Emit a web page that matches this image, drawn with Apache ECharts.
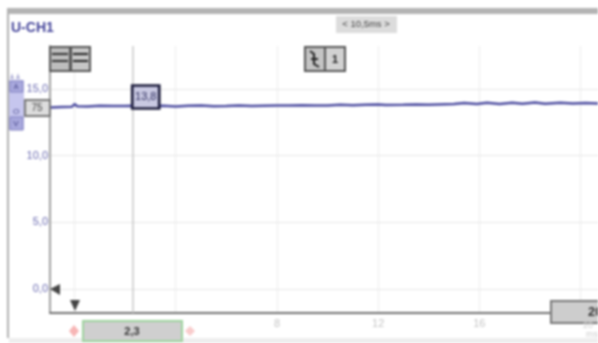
<!DOCTYPE html>
<html>
<head>
<meta charset="utf-8">
<script src="https://cdn.jsdelivr.net/npm/echarts@6/dist/echarts.min.js"></script>
<style>
html, body { margin: 0; padding: 0; background: #fff; }
#chart { width: 598px; height: 343px; filter: blur(0.8px); }
</style>
</head>
<body>
<div id="chart"></div>
<script>
// values
const times = [-0.97, -0.5, -0.1, 0, 0.1, 0.5, 1, 1.5, 2, 2.3, 3, 3.5, 4, 4.5, 5, 5.5, 6, 6.5, 7, 7.5, 8, 8.5, 9, 9.5, 10, 10.5, 11, 11.5, 12, 12.3, 13, 13.5, 14, 15, 15.4, 15.9, 16.3, 16.8, 17.3, 17.7, 18.2, 18.6, 19.2, 19.7, 20.2, 20.69]
const volts = [13.62, 13.65, 13.67, 13.88, 13.71, 13.70, 13.75, 13.72, 13.73, 13.74, 13.72, 13.75, 13.70, 13.74, 13.76, 13.71, 13.73, 13.76, 13.72, 13.75, 13.77, 13.76, 13.78, 13.76, 13.77, 13.82, 13.79, 13.83, 13.85, 13.80, 13.82, 13.85, 13.82, 13.88, 13.95, 13.88, 13.98, 13.88, 13.98, 13.90, 13.99, 13.90, 13.98, 13.92, 13.96, 13.92]
const xTicks = [0, 4, 8, 12, 16, 20]
const xTickLabels = ['', '', '8', '12', '16', '']
const yTicks = [0, 5, 10, 15]
const yTickLabels = ['0,0', '5,0', '10,0', '15,0']
const cursorTime = 2.3
const cursorText = '13,8'
const cursorValue = 13.73

const font = 'Liberation Sans'

// small helpers for the scope's buttons and boxes
function box(x, y, w, h, fill, stroke, lineWidth) {
	return { type: 'rect', shape: { x, y, width: w, height: h }, style: { fill, stroke: stroke || null, lineWidth: lineWidth || 1 }, z: 10 }
}
function label(x, y, text, size, color, align, weight) {
	return { type: 'text', x, y, style: { text, font: (weight || 'normal') + ' ' + size + 'px "' + font + '"', fill: color, align: align || 'center', verticalAlign: 'middle' }, z: 11 }
}
function tri(points, fill) {
	return { type: 'polygon', shape: { points }, style: { fill }, z: 11 }
}

const chrome = [
	// window frame
	box(7, 8, 591, 6, '#b4b4b4'),
	box(7, 8, 2, 330, '#b0b0b0'),
	box(9, 338, 589, 5, '#eeeeee'),
	label(11, 28, 'U-CH1', 14, '#45459a', 'left', 'bold'),
	// time base
	box(336, 16, 61, 17, '#dcdcdc'),
	label(366, 24, '< 10,5ms >', 9.5, '#444444'),
	// stacked trace buttons
	box(50, 47, 20, 24, '#bdbdbd', '#555555', 2),
	box(71, 47, 19, 24, '#c6c6c6', '#555555', 2),
	box(52, 53, 16, 2, '#333333'),
	box(52, 60, 16, 2, '#333333'),
	box(73, 53, 15, 2, '#222222'),
	box(73, 60, 15, 2, '#222222'),
	// trigger buttons
	box(305, 47, 20, 24, '#c4c4c4', '#555555', 2),
	box(325, 47, 20, 24, '#d2d2d2', '#555555', 2),
	{ type: 'polyline', shape: { points: [[310, 51], [314, 54], [314, 64], [319, 67]] }, style: { stroke: '#222222', lineWidth: 2, fill: null }, z: 11 },
	box(311, 58, 7, 2, '#222222'),
	label(335, 60, '1', 11, '#222222', 'center', 'bold'),
	// channel buttons left of the y axis
	box(9, 80, 15, 50, '#c6c6ee'),
	box(10, 81, 13, 11, '#a9a9dd', '#8080c0'),
	box(10, 117, 13, 13, '#a9a9dd', '#8080c0'),
	tri([[10, 79], [12, 73], [14, 79]], '#b0b0d8'),
	tri([[16, 79], [18, 73], [20, 79]], '#b0b0d8'),
	label(16, 87, 'A', 7, '#444488'),
	label(16, 112, 'O', 8, '#444488'),
	label(16, 124, 'V', 8, '#444488'),
	box(25, 100, 25, 16, '#dddddd', '#777777', 2),
	label(37, 108, '75', 10, '#444444'),
	// markers on the axes
	tri([[50, 289], [60, 284], [60, 295]], '#444444'),
	tri([[70, 300], [80, 300], [75, 311]], '#444444'),
	// cursor width box
	box(83, 321, 99, 20, '#cfcfcf', '#9ed39e', 2),
	label(132, 332, '2,3', 11, '#333333', 'center', 'bold'),
	tri([[69, 331], [74, 325], [79, 331], [74, 337]], '#f7b5b5'),
	tri([[185, 331], [190, 326], [195, 331], [190, 336]], '#f9cccc'),
	// time end box
	box(551, 301, 50, 22, '#cdcdcd', '#777777', 2),
	label(588, 312, '20', 13, '#333333', 'left', 'bold'),
	label(583, 326, '20', 9, '#d0d0d0', 'left'),
	label(586, 335, 'ms', 9, '#cccccc', 'left')
]

const chart = echarts.init(document.getElementById('chart'))
chart.setOption({
	backgroundColor: '#fff',
	animation: false,
	grid: { left: 50, right: 0, top: 46, bottom: 30 },
	xAxis: {
		type: 'value',
		min: -0.97,
		max: 20.69,
		axisLine: { onZero: false, lineStyle: { color: '#707070', width: 2 } },
		axisTick: { show: false, customValues: xTicks },
		axisLabel: {
			customValues: xTicks,
			showMinLabel: true,
			showMaxLabel: true,
			margin: 5,
			color: '#c4c4c4',
			fontFamily: font,
			fontSize: 11,
			formatter: v => xTickLabels[xTicks.indexOf(v)]
		},
		splitLine: { show: true, lineStyle: { color: '#ececec', width: 1 } }
	},
	yAxis: {
		type: 'value',
		min: -1.8,
		max: 18.23,
		axisLine: { show: true, onZero: false, lineStyle: { color: '#a0a0a0', width: 2 } },
		axisTick: { show: false, customValues: yTicks },
		axisLabel: {
			customValues: yTicks,
			margin: 2,
			color: '#6a6ab0',
			fontFamily: font,
			fontSize: 11,
			formatter: v => yTickLabels[yTicks.indexOf(v)]
		},
		splitLine: { show: true, lineStyle: { color: '#e6e6e6', width: 1 } }
	},
	series: [{
		type: 'line',
		data: times.map((t, i) => [t, volts[i]]),
		showSymbol: false,
		smooth: false,
		lineStyle: { color: '#4d4da0', width: 2.5 },
		markLine: {
			silent: true,
			symbol: 'none',
			label: { show: false },
			lineStyle: { color: '#c8c8c8', width: 1.5, type: 'solid' },
			data: [{ xAxis: cursorTime }]
		},
		markPoint: {
			silent: true,
			symbol: 'rect',
			symbolSize: [27, 23],
			symbolOffset: [13, -9],
			itemStyle: { color: '#c9c9e2', borderColor: '#1c1c3c', borderWidth: 2.5 },
			label: { show: true, formatter: cursorText, color: '#2c2c5c', fontFamily: font, fontSize: 11 },
			data: [{ coord: [cursorTime, cursorValue] }]
		}
	}],
	graphic: chrome
})
</script>
</body>
</html>
